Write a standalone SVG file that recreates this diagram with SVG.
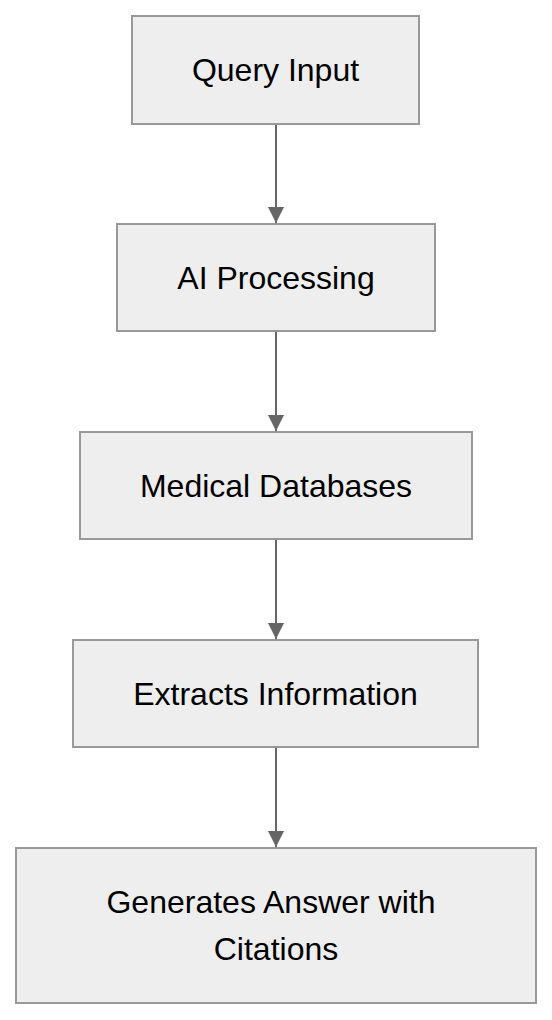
<svg xmlns="http://www.w3.org/2000/svg" width="552" height="1020" viewBox="0 0 552 1020">
<defs>
<style>
.box{fill:#eeeeee;stroke:#999999;stroke-width:2}
.lbl{font-family:"Liberation Sans",Arial,sans-serif;font-size:32px;fill:#000;text-anchor:middle}
.edge{stroke:#666666;stroke-width:2;fill:none}
</style>
<marker id="arr" markerUnits="userSpaceOnUse" markerWidth="16" markerHeight="16" refX="16" refY="8" orient="auto">
<path d="M0,0 L16,8 L0,16 Z" fill="#666666"/>
</marker>
</defs>
<rect width="552" height="1020" fill="#ffffff"/>
<g id="edges">
<line class="edge" x1="276" y1="124" x2="276" y2="223" marker-end="url(#arr)"/>
<line class="edge" x1="276" y1="331" x2="276" y2="431" marker-end="url(#arr)"/>
<line class="edge" x1="276" y1="539" x2="276" y2="639" marker-end="url(#arr)"/>
<line class="edge" x1="276" y1="747" x2="276" y2="847" marker-end="url(#arr)"/>
</g>
<g id="n1"><rect class="box" x="132" y="16" width="287" height="108"/><text class="lbl" x="275.5" y="81">Query Input</text></g>
<g id="n2"><rect class="box" x="117" y="224" width="318" height="107"/><text class="lbl" x="276" y="288.5">AI Processing</text></g>
<g id="n3"><rect class="box" x="80" y="432" width="392" height="107"/><text class="lbl" x="276" y="496.5">Medical Databases</text></g>
<g id="n4"><rect class="box" x="73" y="640" width="405" height="107"/><text class="lbl" x="275.5" y="704.5">Extracts Information</text></g>
<g id="n5"><rect class="box" x="16" y="848" width="520" height="155"/><text class="lbl" x="271" y="913">Generates Answer with</text><text class="lbl" x="276" y="960">Citations</text></g>
</svg>
